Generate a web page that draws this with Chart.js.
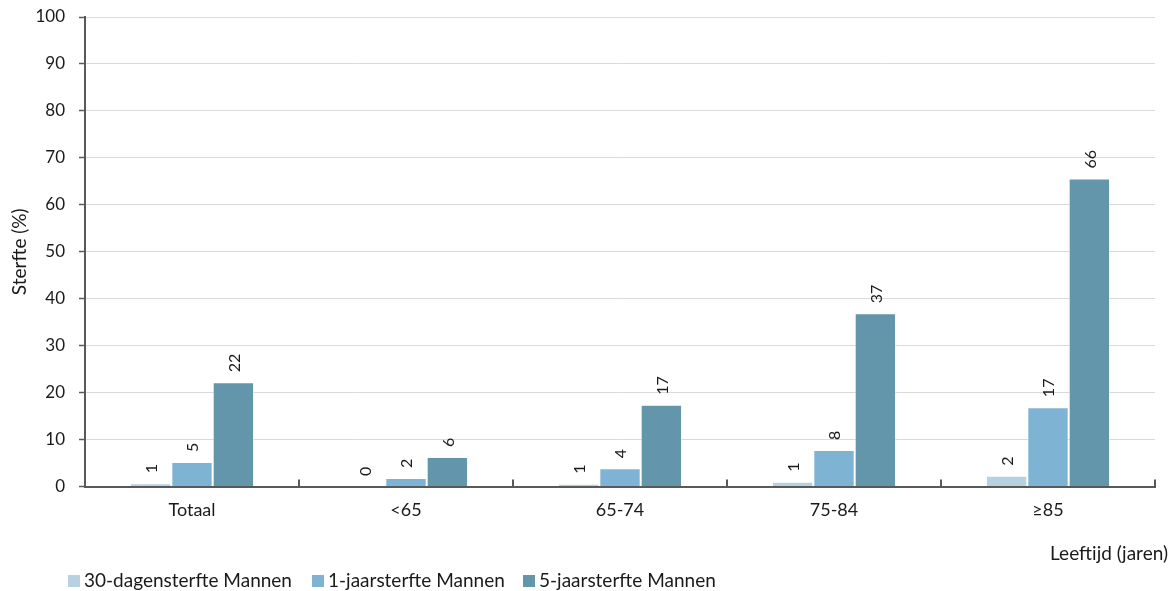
<!DOCTYPE html>
<html>
<head>
<meta charset="utf-8">
<script src="https://cdn.jsdelivr.net/npm/chart.js@4.4.1/dist/chart.umd.min.js"></script>
<style>
  html, body { margin: 0; padding: 0; background: #ffffff; }
  #wrap { width: 1171px; height: 591px; position: relative; }
</style>
</head>
<body>
<div id="wrap"><canvas id="c"></canvas></div>
<script>
// Leeftijdsgroepen
const categories = ['Totaal', '<65', '65-74', '75-84', '≥85'];
// Sterfte (%) per leeftijdsgroep
const sterfte30dagen = [0.7, 0.1, 0.6, 1.0, 2.3];
const sterfte1jaar = [5.2, 1.8, 3.9, 7.8, 16.9];
const sterfte5jaar = [22.2, 6.3, 17.4, 36.9, 65.6];
const seriesNames = ['30-dagensterfte Mannen', '1-jaarsterfte Mannen', '5-jaarsterfte Mannen'];
const seriesColors = ['#b8d1e1', '#7fb3d3', '#6396aa'];
const yAxisTitle = 'Sterfte (%)';
const xAxisTitle = 'Leeftijd (jaren)';

const FONT = 'Lato, "Open Sans", sans-serif';
const TEXT = '#1a1a1a';
const AXIS = '#595959';

// Rotated value labels above each bar
const valueLabels = {
  id: 'valueLabels',
  afterDatasetsDraw(chart) {
    const ctx = chart.ctx;
    ctx.save();
    ctx.font = '16px ' + FONT;
    ctx.fillStyle = TEXT;
    ctx.textAlign = 'left';
    ctx.textBaseline = 'middle';
    chart.data.datasets.forEach((ds, di) => {
      const meta = chart.getDatasetMeta(di);
      meta.data.forEach((bar, i) => {
        const v = ds.data[i];
        ctx.save();
        ctx.translate(bar.x + 1, bar.y - 10);
        ctx.rotate(-Math.PI / 2);
        ctx.fillText(String(Math.round(v)), 0, 0);
        ctx.restore();
      });
    });
    ctx.restore();
  }
};

// X-axis title at the right and the legend row at the bottom
const legendX = [68, 312, 523];
const bottomTexts = {
  id: 'bottomTexts',
  afterDraw(chart) {
    const ctx = chart.ctx;
    ctx.save();
    ctx.fillStyle = TEXT;
    ctx.font = '19px ' + FONT;
    ctx.textBaseline = 'middle';
    ctx.textAlign = 'right';
    ctx.fillText(xAxisTitle, 1168, 554);

    ctx.textAlign = 'left';
    ctx.font = '19px ' + FONT;
    chart.data.datasets.forEach((ds, k) => {
      const x = legendX[k];
      ctx.fillStyle = ds.backgroundColor;
      ctx.fillRect(x, 575, 12, 12);
      ctx.fillStyle = TEXT;
      ctx.fillText(ds.label, x + 16, 581);
    });
    ctx.restore();
  }
};

const datasets = [sterfte30dagen, sterfte1jaar, sterfte5jaar].map((values, k) => ({
  label: seriesNames[k],
  data: values,
  backgroundColor: seriesColors[k],
  borderColor: 'rgba(255,255,255,0.45)',
  borderWidth: 1,
  categoryPercentage: 0.58,
  barPercentage: 1.0
}));

new Chart(document.getElementById('c'), {
  type: 'bar',
  data: { labels: categories, datasets },
  plugins: [valueLabels, bottomTexts],
  options: {
    responsive: true,
    maintainAspectRatio: false,
    animation: false,
    layout: { padding: { top: 17, right: 16, bottom: 0, left: 0 } },
    plugins: {
      legend: { display: false },
      tooltip: { enabled: false }
    },
    scales: {
      x: {
        type: 'category',
        offset: true,
        grid: {
          display: true,
          drawOnChartArea: false,
          drawTicks: true,
          tickLength: -7,
          color: AXIS,
          lineWidth: 2
        },
        border: { display: true, color: AXIS, width: 2 },
        ticks: { padding: 20, color: TEXT, font: { family: FONT, size: 18 } },
        afterFit(s) { s.height = 104.5; }
      },
      y: {
        min: 0,
        max: 100,
        ticks: { stepSize: 10, padding: 14, color: TEXT, font: { family: FONT, size: 17 } },
        grid: {
          color: '#d9d9d9',
          lineWidth: 1,
          tickColor: AXIS,
          tickLength: 6,
          tickWidth: 1.5
        },
        border: { display: true, color: AXIS, width: 2 },
        title: {
          display: true,
          text: yAxisTitle,
          color: TEXT,
          font: { family: FONT, size: 19 },
          padding: { top: 8, bottom: 0 }
        },
        afterFit(s) {
          s.width = 85;
          s.paddingTop = 0;
          s.paddingBottom = 0;
        }
      }
    }
  }
});
</script>
</body>
</html>
